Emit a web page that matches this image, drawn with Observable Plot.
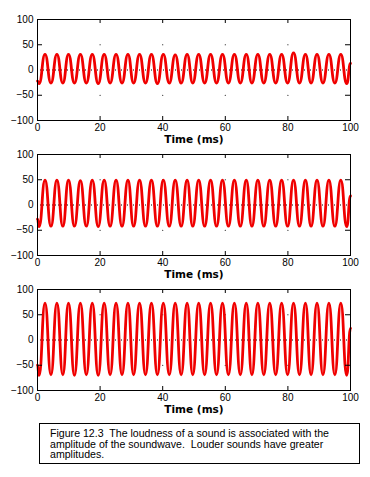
<!DOCTYPE html>
<html>
<head>
<meta charset="utf-8">
<script src="https://cdn.jsdelivr.net/npm/d3@7"></script>
<script src="https://cdn.jsdelivr.net/npm/@observablehq/plot@0.6"></script>
<style>
  html, body { margin: 0; padding: 0; background: #fff; }
  #wrap { position: relative; width: 370px; height: 477px; background: #fff; }
  .panel { position: absolute; left: 0; }
  #caption {
    position: absolute; left: 39px; top: 423px; width: 319px; height: 39px;
    border: 1px solid #000; box-sizing: content-box;
    font-family: "Liberation Sans", Arial, sans-serif; font-size: 10.6px; line-height: 10.5px;
    color: #000; padding: 0; white-space: pre;
  }
  #caption div { position: absolute; left: 10px; top: 4px; }
</style>
</head>
<body>
<div id="wrap"></div>
<script>
const tMs = [
  0,
  0.5, 2.4, 4.3, 6.2, 8.1, 9.9, 11.8, 13.7, 15.6, 17.5,
  19.4, 21.3, 23.2, 25.1, 27.0, 28.9, 30.7, 32.6, 34.5, 36.4,
  38.3, 40.2, 42.1, 44.0, 45.9, 47.8, 49.6, 51.5, 53.4, 55.3,
  57.2, 59.1, 61.0, 62.9, 64.8, 66.7, 68.5, 70.4, 72.3, 74.2,
  76.1, 78.0, 79.9, 81.8, 83.7, 85.6, 87.4, 89.3, 91.2, 93.1,
  95.0, 96.9, 98.8,
  100
];
// Soft sound (top panel)
const quietWave = [
  -22,
  -27, 31, -26, 31, -26, 31, -26, 31, -26, 31,
  -27, 31, -26, 31, -26, 31, -26, 31, -26, 31,
  -27, 31, -26, 30, -26, 31, -26, 31, -26, 31,
  -26, 31, -26, 31, -26, 31, -26, 31, -26, 31,
  -26, 31, -26, 34, -26, 31, -26, 31, -26, 31,
  -26, 31, -27,
  13
];
// Medium sound (middle panel)
const mediumWave = [
  -28,
  -43, 49, -42, 49, -42, 49, -42, 48, -42, 49,
  -43, 49, -42, 49, -42, 49, -42, 49, -42, 49,
  -42, 49, -42, 49, -42, 49, -42, 49, -42, 49,
  -42, 49, -42, 49, -42, 49, -42, 49, -42, 49,
  -42, 49, -42, 49, -42, 49, -42, 49, -42, 49,
  -42, 49, -43,
  18
];
// Loud sound (bottom panel)
const loudWave = [
  -50,
  -70, 73, -69, 73, -69, 73, -70, 73, -69, 73,
  -70, 73, -69, 73, -69, 73, -69, 73, -69, 73,
  -69, 73, -69, 73, -69, 73, -69, 73, -69, 73,
  -69, 73, -69, 73, -69, 73, -69, 73, -69, 73,
  -69, 73, -69, 73, -69, 73, -69, 73, -69, 73,
  -69, 73, -70,
  23
];
const xTicks = [0, 20, 40, 60, 80, 100];
const xInnerTicks = [20, 40, 60, 80];
const yTicks = [-100, -50, 0, 50, 100];
const yInnerTicks = [-50, 50];
const xTitle = "Time (ms)";
const captionLines = [
  "Figure 12.3  The loudness of a sound is associated with the",
  "amplitude of the soundwave.  Louder sounds have greater",
  "amplitudes."
];

const W = 370, H = 135, mT = 19, mB = 15, mL = 37, mR = 20;
const innerW = W - mL - mR, innerH = H - mT - mB;
const gridDots = [];
for (const x of xInnerTicks) for (const y of yInnerTicks) gridDots.push({x, y});

function panel(values) {
  const rows = tMs.map((t, i) => ({t, v: values[i]}));
  return Plot.plot({
    width: W, height: H,
    marginTop: mT, marginBottom: mB, marginLeft: mL, marginRight: mR,
    x: {domain: [0, 100]},
    y: {domain: [-100, 100]},
    style: {fontFamily: "'Liberation Sans', Arial, sans-serif", fontSize: "10px", background: "transparent", overflow: "visible", color: "#000"},
    marks: [
      Plot.ruleY([0], {stroke: "#000", strokeDasharray: "1,2", strokeWidth: 1}),
      Plot.dot(gridDots, {x: "x", y: "y", r: 0.6, fill: "#000", stroke: null}),
      Plot.line(rows, {x: "t", y: "v", stroke: "#f00000", strokeWidth: 2.8, curve: "bump-x"}),
      Plot.frame({stroke: "#000", strokeWidth: 1}),
      Plot.tickX(xInnerTicks, {x: d => d, insetBottom: innerH - 4, stroke: "#000"}),
      Plot.tickX(xInnerTicks, {x: d => d, insetTop: innerH - 4, stroke: "#000"}),
      Plot.tickY(yInnerTicks, {y: d => d, insetRight: innerW - 5, stroke: "#000"}),
      Plot.tickY(yInnerTicks, {y: d => d, insetLeft: innerW - 5, stroke: "#000"}),
      Plot.axisY({ticks: yTicks, tickSize: 0, tickPadding: 4, label: null, fontSize: 10}),
      Plot.axisX({ticks: xTicks, tickSize: 0, tickPadding: 3, label: null, fontSize: 10}),
      Plot.text([xTitle], {text: d => d, frameAnchor: "bottom", dy: 22, fontWeight: "bold",
        fontFamily: "'DejaVu Sans', sans-serif", fontSize: 10.5, fill: "#000"})
    ]
  });
}

const wrap = document.getElementById("wrap");
[quietWave, mediumWave, loudWave].forEach((vals, i) => {
  const svg = panel(vals);
  svg.classList.add("panel");
  svg.style.top = (i * 135) + "px";
  wrap.appendChild(svg);
});
const cap = document.createElement("div");
cap.id = "caption";
const inner = document.createElement("div");
inner.textContent = captionLines.join("\n");
cap.appendChild(inner);
wrap.appendChild(cap);
</script>
</body>
</html>
